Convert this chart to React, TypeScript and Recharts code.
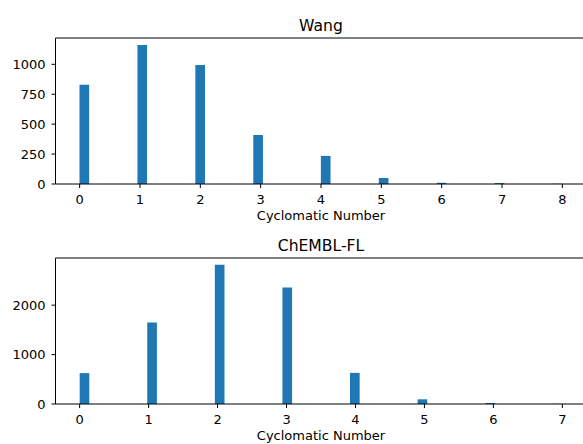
import React from "react"
import { BarChart, Bar, XAxis, YAxis, ReferenceLine } from "recharts"

// cyclomatic number -> molecule count
const wangNumbers = [0, 1, 2, 3, 4, 5, 6, 7, 8]
const wangCounts = [829, 1162, 994, 409, 235, 50, 10, 8, 2]
const wangXTicks = [0, 1, 2, 3, 4, 5, 6, 7, 8]
const wangYTicks = [0, 250, 500, 750, 1000]

const chemblNumbers = [0, 1, 2, 3, 4, 5, 6, 7]
const chemblCounts = [625, 1650, 2820, 2360, 630, 95, 20, 3]
const chemblXTicks = [0, 1, 2, 3, 4, 5, 6, 7]
const chemblYTicks = [0, 1000, 2000]

const N_BINS = 50
const FONT = "DejaVu Sans, sans-serif"
const BLUE = "#1f77b4"
const PLOT_W = 531

// place each value in its histogram bin (50 bins over [min, max], like plt.hist)
function toBins(numbers: number[], counts: number[]) {
  const lo = Math.min(...numbers)
  const hi = Math.max(...numbers)
  const w = (hi - lo) / N_BINS
  const rows = numbers.map((n, i) => {
    let b = Math.floor((n - lo) / w + 1e-9)
    if (b >= N_BINS) b = N_BINS - 1
    return { x: lo + (b + 0.5) * w, count: counts[i] }
  })
  return { rows, lo, hi, w }
}

interface PanelProps {
  title: string
  numbers: number[]
  counts: number[]
  xTicks: number[]
  yTicks: number[]
  yMax: number
  top: number
  height: number
  marginTop: number
}

const Panel = ({ title, numbers, counts, xTicks, yTicks, yMax, top, height, marginTop }: PanelProps) => {
  const { rows, lo, hi, w } = toBins(numbers, counts)
  const pad = (hi - lo) * 0.05
  const domain: [number, number] = [lo - pad, hi + pad]
  const barSize = (PLOT_W * w) / (domain[1] - domain[0])
  const tickStyle = { fill: "#000", fontSize: 13, fontFamily: FONT }
  return (
    <div style={{ position: "absolute", left: 0, top, width: 583, height, overflow: "hidden" }}>
      <BarChart
        width={600}
        height={height}
        data={rows}
        margin={{ top: marginTop, right: 600 - 55.5 - PLOT_W, bottom: 0, left: 0.5 }}
        barCategoryGap={0}
      >
        <XAxis
          dataKey="x"
          type="number"
          domain={domain}
          ticks={xTicks}
          interval={0}
          height={40}
          tickSize={4}
          tickMargin={7}
          stroke="#000"
          tick={tickStyle}
          label={{ value: "Cyclomatic Number", position: "insideTop", offset: 27, fill: "#000", fontSize: 13, fontFamily: FONT }}
        />
        <YAxis
          type="number"
          domain={[0, yMax]}
          ticks={yTicks}
          interval={0}
          width={55}
          tickSize={4}
          tickMargin={6}
          stroke="#000"
          tick={tickStyle}
        />
        <ReferenceLine y={yMax} stroke="#000" strokeWidth={1} />
        <Bar dataKey="count" fill={BLUE} barSize={barSize} isAnimationActive={false} />
      </BarChart>
      <svg style={{ position: "absolute", left: 0, top: 0 }} width={583} height={marginTop}>
        <text x={321} y={marginTop - 7} textAnchor="middle" fontSize={15.6} fontFamily={FONT} fill="#000">
          {title}
        </text>
      </svg>
    </div>
  )
}

export default function App() {
  return (
    <div style={{ position: "absolute", left: 0, top: 0, width: 583, height: 444, background: "#fff", overflow: "hidden" }}>
      <Panel
        title="Wang"
        numbers={wangNumbers}
        counts={wangCounts}
        xTicks={wangXTicks}
        yTicks={wangYTicks}
        yMax={1220}
        top={0}
        height={224}
        marginTop={38}
      />
      <Panel
        title="ChEMBL-FL"
        numbers={chemblNumbers}
        counts={chemblCounts}
        xTicks={chemblXTicks}
        yTicks={chemblYTicks}
        yMax={2955}
        top={222}
        height={222}
        marginTop={36}
      />
    </div>
  )
}
